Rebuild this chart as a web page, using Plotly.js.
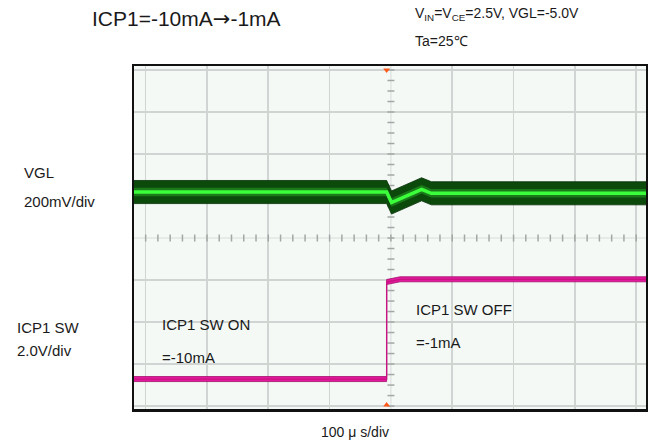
<!DOCTYPE html>
<html><head><meta charset="utf-8">
<script src="https://cdn.plot.ly/plotly-3.0.1.min.js"></script>
<style>html,body{margin:0;padding:0;background:#fff}</style>
</head><body><div id="chart" style="width:648px;height:445px"></div>
<script>
// ---- data (time in µs, 100 µs/div; trigger at about -7 µs) ----
const vglTime = [-419, -7, 1, 50, 66, 416];
const vglMv   = [0, 0, -50, 13, -6, -6];          // VGL deviation from -5.0 V, mV
const vglNoiseMv = 55;                             // half width of noise band, mV
const swTime  = [-419, -7, -7, 15, 416];
const swVolt  = [0, 0, 4.62, 4.75, 4.75];          // ICP1 SW, V
const swBandV = 0.12;
const triggerTime = -7;
const xGrid = [-400, -300, -200, -100, 100, 200, 300, 400];
const yGrid = [-4, -3, -2, -1, 1, 2, 3, 4];

// ---- channel scales (divisions) ----
const vglScale = 200, vglPos = 1.095;   // mV/div, screen position
const swScale = 2.0, swPos = -3.357;    // V/div
const vglDiv = v => vglPos + v / vglScale;
const swDiv = v => swPos + v / swScale;

const traces = [];
function band(xs, ys, half, conv, color, edge) {
  traces.push({x: xs, y: ys.map(v => conv(v + half)), mode: 'lines',
    line: {color: edge || color, width: edge ? 0.8 : 0}, hoverinfo: 'skip', showlegend: false});
  traces.push({x: xs, y: ys.map(v => conv(v - half)), mode: 'lines', fill: 'tonexty',
    fillcolor: color, line: {color: edge || color, width: edge ? 0.8 : 0}, hoverinfo: 'skip', showlegend: false});
}
// graticule minor ticks on centre lines
const mx = [], my = [];
for (let k = -20; k <= 20; k++) { mx.push(k * 20); }
for (let k = -16; k <= 16; k++) { my.push(k * 0.25); }
traces.push({x: mx, y: mx.map(() => 0), mode: 'markers', hoverinfo: 'skip', showlegend: false,
  marker: {symbol: 'line-ns-open', size: 5, color: '#a2a8a5', line: {color: '#a2a8a5', width: 1.5}}});
traces.push({x: my.map(() => 0), y: my, mode: 'markers', hoverinfo: 'skip', showlegend: false,
  marker: {symbol: 'line-ew-open', size: 5, color: '#a2a8a5', line: {color: '#a2a8a5', width: 1.5}}});

// VGL
band(vglTime, vglMv, vglNoiseMv, vglDiv, '#0c4a0c', '#063006');
band(vglTime, vglMv, 20, vglDiv, '#1a7a1a');
traces.push({x: vglTime, y: vglMv.map(vglDiv), mode: 'lines', line: {color: '#3cff3c', width: 3.5},
  hoverinfo: 'skip', showlegend: false});
// ICP1 SW
band(swTime, swVolt, swBandV, swDiv, '#e3189d', '#a30f6c');
traces.push({x: swTime, y: swVolt.map(swDiv), mode: 'lines', line: {color: '#c8147f', width: 1.3},
  hoverinfo: 'skip', showlegend: false});
// trigger markers
traces.push({x: [triggerTime, triggerTime], y: [4.0, -3.976], mode: 'markers', hoverinfo: 'skip', showlegend: false,
  marker: {symbol: ['triangle-down', 'triangle-up'], size: 6, color: '#ff5a1a'}});

// pixel -> paper helper for text placement
const L = 134, R = 2, T = 66, B = 36, W = 648, H = 445;
const px = x => (x - L) / (W - L - R);
const py = y => (H - B - y) / (H - T - B);
const font = 'Liberation Sans, Arial, sans-serif';
function lab(text, x, y, size, anchor) {
  return {text: text, xref: 'paper', yref: 'paper', x: px(x), y: py(y), xanchor: anchor || 'left',
    yanchor: 'middle', showarrow: false, font: {family: font, size: size, color: '#1a1a1a'}};
}
const annotations = [
  lab('ICP1=-10mA<span style="font-family:DejaVu Sans">→</span>-1mA', 90, 19, 21),
  lab('V<sub>IN</sub>=V<sub>CE</sub>=2.5V, VGL=-5.0V', 413, 14, 14),
  lab('Ta=25℃', 413, 41, 14),
  lab('VGL', 22, 172, 15),
  lab('200mV/div', 22, 202, 15),
  lab('ICP1 SW', 15, 327, 15),
  lab('2.0V/div', 15, 350, 15),
  lab('ICP1 SW ON', 160, 324, 15),
  lab('=-10mA', 160, 357, 15),
  lab('ICP1 SW OFF', 414, 309, 15),
  lab('=-1mA', 414, 342, 15),
  lab('100 μ s/div', 355, 432, 14, 'center')
];

const layout = {
  width: W, height: H, margin: {l: L, r: R, t: T, b: B},
  paper_bgcolor: '#ffffff', plot_bgcolor: '#f4f9f6',
  xaxis: {range: [-419, 416], tickmode: 'array', tickvals: xGrid, showticklabels: false, ticks: '',
    showgrid: true, gridcolor: '#d0d4d2', gridwidth: 1.6, zeroline: false,
    showline: true, mirror: true, linecolor: '#111', linewidth: 2.5},
  yaxis: {range: [-4.07, 4.095], tickmode: 'array', tickvals: yGrid, showticklabels: false, ticks: '',
    showgrid: true, gridcolor: '#d0d4d2', gridwidth: 1.6, zeroline: false,
    showline: true, mirror: true, linecolor: '#111', linewidth: 2.5},
  shapes: [
    {type: 'line', xref: 'x', yref: 'paper', x0: 0, x1: 0, y0: 0, y1: 1, layer: 'below',
      line: {color: '#d8dcda', width: 1}},
    {type: 'line', xref: 'paper', yref: 'y', x0: 0, x1: 1, y0: 0, y1: 0, layer: 'below',
      line: {color: '#d8dcda', width: 1}}
  ],
  annotations: annotations,
  showlegend: false
};
Plotly.newPlot('chart', traces, layout, {staticPlot: true, displayModeBar: false});
</script></body></html>
